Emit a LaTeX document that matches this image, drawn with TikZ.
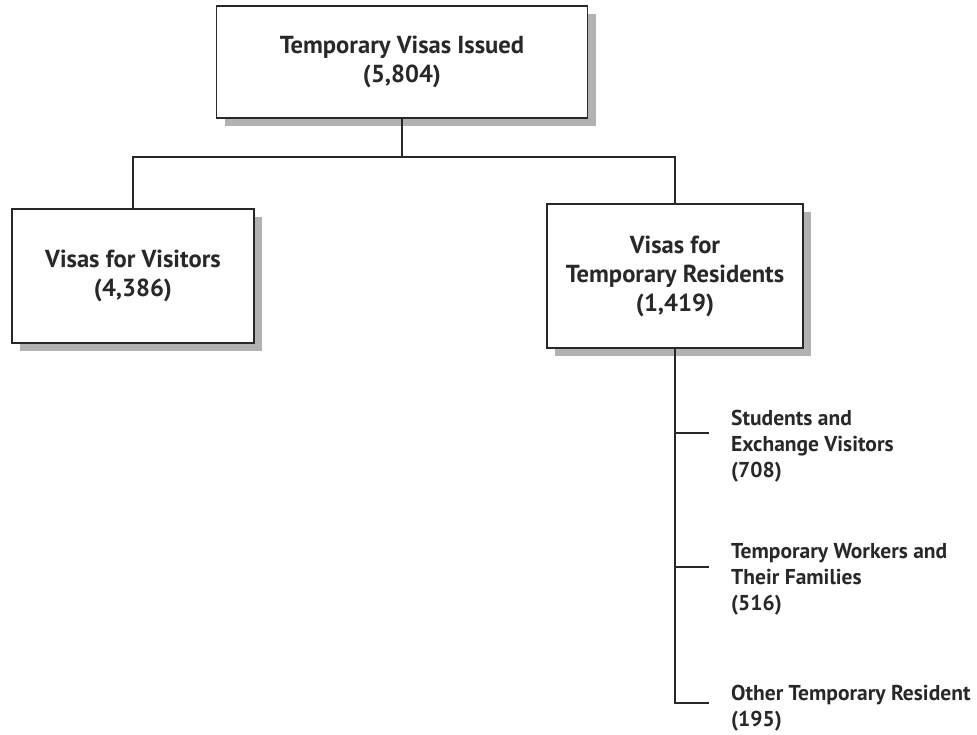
\documentclass[tikz,border=0pt]{standalone}
\usepackage{fontspec}
\setmainfont{PT Sans}
\usetikzlibrary{shadows}
\definecolor{ink}{RGB}{40,40,40}
\definecolor{shade}{RGB}{178,178,178}

\begin{document}
\begin{tikzpicture}[x=1pt,y=-1pt,
    box/.style={draw=ink, line width=1.4pt, fill=white, align=center, text=ink,
      font=\fontsize{24.6}{29}\selectfont\bfseries,
      drop shadow={shadow xshift=8pt, shadow yshift=-8pt, fill=shade, opacity=1}},
    leaf/.style={anchor=base west, align=left, inner sep=0pt, text=ink,
      font=\fontsize{21.5}{26}\selectfont\bfseries},
    link/.style={draw=ink, line width=1.2pt}]
  \useasboundingbox (0,0) rectangle (977,734);

  % boxes
  \node[box, minimum width=371pt, minimum height=112pt] (issued) at (402,62) {Temporary Visas Issued\\(5,804)};
  \node[box, minimum width=242pt, minimum height=134pt] (visitors) at (133,276) {Visas for Visitors\\(4,386)};
  \node[box, minimum width=256pt, minimum height=144pt] (residents) at (675,276) {Visas for\\Temporary Residents\\(1,419)};

  \coordinate (bar) at (402,157);
  \draw[link] (issued.south) -- (bar);
  \draw[link] (visitors.north) |- (bar) -| (residents.north);

  % branches under the residents box
  \coordinate (b1) at (709,433);
  \coordinate (b2) at (709,567);
  \coordinate (b3) at (709,703);
  \draw[link] (residents.south) |- (b3);
  \draw[link] (residents.south |- b1) -- (b1);
  \draw[link] (residents.south |- b2) -- (b2);

  % labels, anchored at the baseline of their last line
  \node[leaf] (students) at (731,477) {Students and\\Exchange Visitors\\(708)};
  \node[leaf] (workers) at (731,610) {Temporary Workers and\\Their Families\\(516)};
  \node[leaf] (others) at (731,726) {Other Temporary Resident\\(195)};
\end{tikzpicture}
\end{document}
